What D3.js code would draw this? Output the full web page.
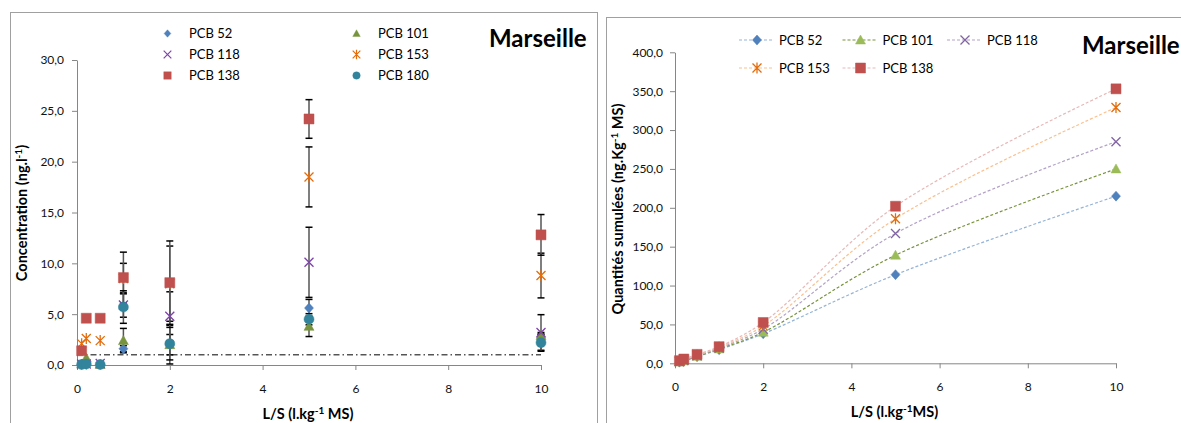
<!DOCTYPE html>
<html><head><meta charset="utf-8">
<script src="https://cdn.jsdelivr.net/npm/d3@7"></script>
<style>
body{margin:0;background:#fff;}
svg text{font-family:Lato,"Open Sans",sans-serif;}
</style></head>
<body><svg id="c" width="1181" height="423"></svg>
<script>
// ---------- data ----------
const lsValues = [0.1, 0.2, 0.5, 1, 2, 5, 10];
const xTicks = [0, 2, 4, 6, 8, 10];
const concTicks = [0, 5, 10, 15, 20, 25, 30];
const cumTicks = [0, 50, 100, 150, 200, 250, 300, 350, 400];
const seriesNamesLeft = ["PCB 52", "PCB 101", "PCB 118", "PCB 153", "PCB 138", "PCB 180"];
const conc52  = [0.05, 0.05, 0.05, 1.6, 2.0, 5.6, 2.7];
const conc101 = [0.1, 0.7, 0.05, 2.4, 2.0, 3.8, 2.9];
const conc118 = [0.1, 0.1, 0.15, 5.9, 4.8, 10.1, 3.2];
const conc153 = [2.1, 2.6, 2.4, 8.5, 8.0, 18.5, 8.8];
const conc138 = [1.4, 4.6, 4.6, 8.6, 8.1, 24.2, 12.8];
const conc180 = [0.05, 0.1, 0.05, 5.7, 2.1, 4.5, 2.2];
const err52  = [0, 0, 0, 0.3, 1.9, 0.85, 0.3];
const err101 = [0, 0, 0, 1.2, 1.0, 1.0, 0.3];
const err118 = [0, 0, 0, 1.2, 2.4, 3.45, 1.75];
const err153 = [0, 0, 0, 1.5, 3.7, 2.95, 2.2];
const err138 = [0, 0, 0, 2.5, 4.1, 1.9, 2.0];
const err180 = [0, 0, 0, 1.6, 1.6, 0.55, 0.85];
const limitValue = 1.0;
const seriesNamesRight = ["PCB 52", "PCB 101", "PCB 118", "PCB 153", "PCB 138"];
const cum52  = [1.5, 3.0, 8.5, 17.5, 38, 114, 215];
const cum101 = [1.6, 3.2, 9, 18.5, 40, 139, 250];
const cum118 = [1.8, 3.6, 9.5, 19.5, 44, 167, 285];
const cum153 = [2.5, 4.8, 10.5, 20.5, 48, 186, 329];
const cum138 = [3.4, 5.5, 11.5, 21.4, 52.5, 202, 353];
const titleText = "Marseille";

// ---------- styles ----------
const sym = {
  diamond: "M0,-5L4.5,0L0,5L-4.5,0Z",
  triangle: "M0,-5L5,4L-5,4Z",
  xmark: "M-4.5,-4.5L4.5,4.5M-4.5,4.5L4.5,-4.5",
  star: "M-4.5,-4.5L4.5,4.5M-4.5,4.5L4.5,-4.5M0,-5.5L0,5.5",
  square: "M-5,-5H5V5H-5Z",
  circle: "M5,0A5,5 0 1,1 -5,0A5,5 0 1,1 5,0Z"
};
const leftStyle = [
  {shape:"diamond", color:"#4F81BD"},
  {shape:"triangle", color:"#77933C"},
  {shape:"xmark", color:"#8040B0"},
  {shape:"star", color:"#E46C0A"},
  {shape:"square", color:"#C0504D"},
  {shape:"circle", color:"#31849B"}
];
const rightStyle = [
  {shape:"diamond", color:"#4F81BD", line:"#95B3D7"},
  {shape:"triangle", color:"#9BBB59", line:"#77933C"},
  {shape:"xmark", color:"#8064A2", line:"#B3A2C7"},
  {shape:"star", color:"#E46C0A", line:"#FAC090"},
  {shape:"square", color:"#C0504D", line:"#E6B9B8"}
];
function marker(g, shape, color, x, y){
  const open = (shape==="xmark"||shape==="star");
  g.append("path").attr("d", sym[shape]).attr("transform",`translate(${x},${y})`)
    .attr("fill", open?"none":color).attr("stroke", color)
    .attr("stroke-width", open?1.3:0.5);
}
const fmt = d => d.toFixed(1).replace(".", ",");
const svg = d3.select("#c");

// frames
svg.append("rect").attr("x",10.5).attr("y",12.5).attr("width",587).attr("height",430)
  .attr("fill","none").attr("stroke","#a0a0a0");
svg.append("rect").attr("x",606.5).attr("y",17.5).attr("width",590).attr("height",430)
  .attr("fill","none").attr("stroke","#a0a0a0");

function styleAxis(a){
  a.select(".domain").attr("stroke","#868686");
  a.selectAll(".tick line").attr("stroke","#868686");
  a.selectAll(".tick text").attr("fill","#111").style("font-size","12px");
}

// ---------- LEFT CHART ----------
const xL = d3.scaleLinear().domain([0,10]).range([77,541]);
const yL = d3.scaleLinear().domain([0,30]).range([365,60]);
const gL = svg.append("g");
const axYL = gL.append("g").attr("transform","translate(77,0)")
  .call(d3.axisLeft(yL).tickValues(concTicks).tickFormat(fmt).tickSize(5).tickPadding(8).tickSizeOuter(0));
styleAxis(axYL);
const axXL = gL.append("g").attr("transform","translate(0,365)")
  .call(d3.axisBottom(xL).tickValues(xTicks).tickFormat(d=>d).tickSize(5).tickPadding(14).tickSizeOuter(0));
styleAxis(axXL);

// limit line
gL.append("line").attr("x1",xL(0)).attr("x2",xL(10)).attr("y1",yL(limitValue)).attr("y2",yL(limitValue))
  .attr("stroke","#000").attr("stroke-width",1).attr("stroke-dasharray","6,3,1.5,3");

const concSeries = [conc52, conc101, conc118, conc153, conc138, conc180];
const errSeries = [err52, err101, err118, err153, err138, err180];
// error bars
concSeries.forEach((vals, si) => {
  vals.forEach((v, i) => {
    const e = errSeries[si][i];
    if (!e) return;
    const x = xL(lsValues[i]);
    gL.append("line").attr("x1",x).attr("x2",x).attr("y1",yL(v-e)).attr("y2",yL(v+e))
      .attr("stroke","#555").attr("stroke-width",1.5);
    [v-e, v+e].forEach(c => gL.append("line").attr("x1",x-3.5).attr("x2",x+3.5)
      .attr("y1",yL(c)).attr("y2",yL(c)).attr("stroke","#000").attr("stroke-width",1.5));
  });
});
concSeries.forEach((vals, si) => {
  vals.forEach((v, i) => marker(gL, leftStyle[si].shape, leftStyle[si].color, xL(lsValues[i]), yL(v)));
});
// legend left (2 columns, row-wise)
seriesNamesLeft.forEach((name, i) => {
  const col = i % 2, row = Math.floor(i / 2);
  const mx = col ? 356.5 : 167.5, my = 33.5 + row * 21;
  const open = (leftStyle[i].shape==="xmark"||leftStyle[i].shape==="star");
  const sc = open ? 0.85 : 0.75;
  const g = gL.append("g");
  g.append("path").attr("d", sym[leftStyle[i].shape])
    .attr("transform",`translate(${mx},${my}) scale(${sc})`)
    .attr("fill", open?"none":leftStyle[i].color)
    .attr("stroke", leftStyle[i].color).attr("stroke-width", open?1.4:0.5);
  g.append("text").attr("x", mx+21.5).attr("y", my+4.5).text(name)
    .style("font-size","13px").attr("fill","#000");
});
gL.append("text").attr("x",489).attr("y",47).text(titleText)
  .style("font-size","24px").style("font-weight","bold").attr("fill","#000");
// axis titles
const xtL = gL.append("text").attr("x",308).attr("y",419).attr("text-anchor","middle")
  .style("font-size","14.5px").style("font-weight","bold");
xtL.append("tspan").text("L/S (l.kg");
xtL.append("tspan").text("-1").style("font-size","10px").attr("dy",-5);
xtL.append("tspan").text(" MS)").attr("dy",5);
const ytL = gL.append("text").attr("transform","translate(27,213) rotate(-90)").attr("text-anchor","middle")
  .style("font-size","14.5px").style("font-weight","bold");
ytL.append("tspan").text("Concentration (ng.l");
ytL.append("tspan").text("-1").style("font-size","10px").attr("dy",-5);
ytL.append("tspan").text(")").attr("dy",5);

// ---------- RIGHT CHART ----------
const xR = d3.scaleLinear().domain([0,10]).range([675,1116]);
const yR = d3.scaleLinear().domain([0,400]).range([363.3,52.3]);
const gR = svg.append("g");
const axYR = gR.append("g").attr("transform","translate(675,0)")
  .call(d3.axisLeft(yR).tickValues(cumTicks).tickFormat(fmt).tickSize(5).tickPadding(7).tickSizeOuter(0));
styleAxis(axYR);
const axXR = gR.append("g").attr("transform","translate(0,363.3)")
  .call(d3.axisBottom(xR).tickValues(xTicks).tickFormat(d=>d).tickSize(5).tickPadding(14).tickSizeOuter(0));
styleAxis(axXR);

const cumSeries = [cum52, cum101, cum118, cum153, cum138];
const line = d3.line().x((d,i)=>xR(lsValues[i])).y(d=>yR(d)).curve(d3.curveCatmullRom.alpha(0.5));
cumSeries.forEach((vals, si) => {
  gR.append("path").attr("d", line(vals)).attr("fill","none")
    .attr("stroke", rightStyle[si].line).attr("stroke-width",1.2).attr("stroke-dasharray","3,2");
});
cumSeries.forEach((vals, si) => {
  vals.forEach((v,i) => marker(gR, rightStyle[si].shape, rightStyle[si].color, xR(lsValues[i]), yR(v)));
});
// legend right
const legPos = [[739,40],[842.5,40],[947,40],[739,68],[842.5,68]];
seriesNamesRight.forEach((name, i) => {
  const [lx, ly] = legPos[i];
  gR.append("line").attr("x1",lx).attr("x2",lx+35).attr("y1",ly).attr("y2",ly)
    .attr("stroke", rightStyle[i].line).attr("stroke-width",1.2).attr("stroke-dasharray","3,2");
  marker(gR, rightStyle[i].shape, rightStyle[i].color, lx+18, ly);
  gR.append("text").attr("x", lx+40).attr("y", ly+4.5).text(name)
    .style("font-size","13px").attr("fill","#000");
});
gR.append("text").attr("x",1082).attr("y",54).text(titleText)
  .style("font-size","24px").style("font-weight","bold").attr("fill","#000");
const xtR = gR.append("text").attr("x",894.5).attr("y",417).attr("text-anchor","middle")
  .style("font-size","14.5px").style("font-weight","bold");
xtR.append("tspan").text("L/S (l.kg");
xtR.append("tspan").text("-1").style("font-size","10px").attr("dy",-5);
xtR.append("tspan").text("MS)").attr("dy",5);
const ytR = gR.append("text").attr("transform","translate(623,209) rotate(-90)").attr("text-anchor","middle")
  .style("font-size","14.5px").style("font-weight","bold");
ytR.append("tspan").text("Quantités sumulées (ng.Kg");
ytR.append("tspan").text("-1").style("font-size","10px").attr("dy",-5);
ytR.append("tspan").text(" MS)").attr("dy",5);
</script></body></html>
